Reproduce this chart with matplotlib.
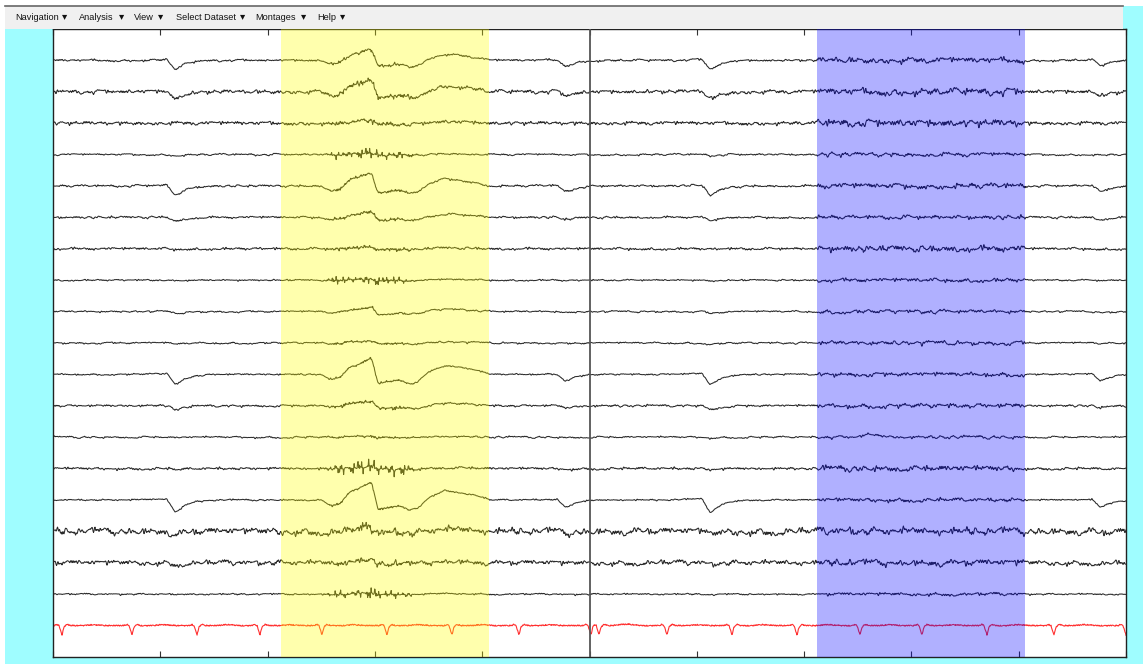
import numpy as np
import matplotlib
matplotlib.use("Agg")
import matplotlib.pyplot as plt
from matplotlib.patches import Rectangle

# --- data (x in pixel columns of the 1143 px image) ---
x0_px, px_per_sec = 53.0, 107.3
menu_items = ["Navigation", "Analysis", "View", "Select Dataset", "Montages", "Help"]
menu_x = [15, 79, 134, 176, 255, 317]
chevron_x = [61, 118, 157, 239, 300, 339]

yellow_span = (281, 489)
blue_span = (817, 1025)
marker_px = 590

blink_px = [175, 565, 710, 1100]
blink_weight = [1.0, 0.6, 1.0, 0.6]
blink_shape_dx = [-45, -8, 0, 4, 10, 20, 35, 50]
blink_shape_val = [0.0, 0.08, -1.0, -0.85, -0.45, -0.15, -0.03, 0.0]

# slow wave seen inside the yellow window
slow_px = [281, 320, 332, 340, 350, 360, 370, 372, 378, 390, 400, 410, 418, 430, 445, 460, 480, 490]
slow_val = [0.0, 0.0, -0.35, -0.2, 0.45, 0.7, 1.0, 0.9, -0.55, -0.45, -0.35, -0.6, -0.45, 0.2, 0.55, 0.45, 0.2, 0.0]

# spiky burst inside the yellow window
burst_px = [325, 338, 350, 362, 372, 384, 396, 410, 420]
burst_val = [0.0, 1.0, 0.5, 0.8, 1.0, 0.6, 0.9, 0.3, 0.0]

# bump in the blue window (channel 13)
bump_px = [855, 868, 878, 892]
bump_val = [0.0, 0.25, 0.15, 0.0]

ecg_px = [60, 130, 195, 258, 320, 385, 450, 517, 589, 597, 665, 730, 795, 858, 920, 985, 1052, 1124]
qrs_dx = [-6, -3, -1, 2, 4, 7, 11, 22, 32, 46]
qrs_val = [0.0, 0.12, 0.0, -1.0, -0.15, 0.12, 0.0, 0.0, 0.1, 0.0]

# per-channel amplitudes (channel-spacing units), channels 1..18 top to bottom
fast_amp = [0.04, 0.07, 0.07, 0.03, 0.04, 0.04, 0.05, 0.03, 0.03, 0.03, 0.03, 0.04, 0.03, 0.05, 0.03, 0.12, 0.09, 0.03]
med_amp = [0.03, 0.05, 0.04, 0.03, 0.03, 0.03, 0.03, 0.02, 0.03, 0.03, 0.02, 0.03, 0.03, 0.03, 0.02, 0.10, 0.07, 0.02]
blue_gain = [2.6, 1.8, 2.0, 2.2, 2.4, 1.8, 2.4, 2.4, 2.0, 2.2, 2.6, 2.0, 1.6, 2.2, 2.4, 1.1, 1.3, 2.0]
blink_amp = [0.28, 0.22, 0.0, 0.03, 0.30, 0.12, 0.02, 0.03, 0.06, 0.04, 0.32, 0.12, 0.02, 0.04, 0.38, 0.10, 0.05, 0.02]
slow_amp = [0.35, 0.35, 0.08, 0.05, 0.42, 0.18, 0.05, 0.04, 0.14, 0.06, 0.50, 0.14, 0.04, 0.05, 0.55, 0.10, 0.08, 0.04]
burst_amp = [0.03, 0.05, 0.03, 0.09, 0.03, 0.03, 0.03, 0.08, 0.02, 0.02, 0.02, 0.03, 0.02, 0.13, 0.02, 0.05, 0.04, 0.09]
bump_amp = [0, 0, 0, 0, 0, 0, 0, 0, 0, 0, 0, 0, 1.0, 0, 0, 0, 0, 0]
ecg_amp = 0.3

# hand-typed wiggle values used for the background texture of the traces
wiggle = [0.3, -0.5, 0.8, -0.2, 0.1, -0.9, 0.6, 0.4, -0.7, 0.2, -0.1, 0.9, -0.4, -0.6, 0.5, 0.0,
          -0.3, 0.7, -0.8, 0.3, 0.6, -0.2, -0.5, 0.9, -0.1, 0.4, -0.9, 0.2, 0.7, -0.6, 0.1, -0.4,
          0.8, -0.3, 0.5, -0.7, 0.0, 0.6, -0.2, -0.8, 0.4, 0.9, -0.5, 0.2, -0.1, 0.7, -0.6, 0.3,
          -0.9, 0.5, 0.1, -0.3, 0.8, -0.4, 0.6, -0.7, 0.2, -0.2, 0.9, -0.5, 0.4, -0.1, -0.8, 0.7,
          0.0, -0.6, 0.3, 0.5, -0.4, 0.8, -0.9, 0.1, 0.6, -0.3, 0.2, -0.7, 0.9, -0.2, 0.4, -0.5,
          0.7, -0.1, -0.6, 0.3, 0.8, -0.8, 0.5, -0.4, 0.1, 0.6, -0.9, 0.2, 0.7, -0.3, 0.4, -0.6,
          0.0, 0.9, -0.7, 0.3, -0.2]


def sec(px):
    return (np.asarray(px, dtype=float) - x0_px) / px_per_sec


t = np.linspace(0, 10, 2146)
W = np.array(wiggle)
L = len(W)
idx = np.arange(len(t))
in_blue = (t >= sec(blue_span[0])) & (t <= sec(blue_span[1]))
slow = np.interp(t, sec(slow_px), slow_val)
burst_env = np.interp(t, sec(burst_px), burst_val)
bump = np.interp(t, sec(bump_px), bump_val)

blink = np.zeros_like(t)
for bp, bw in zip(blink_px, blink_weight):
    blink += bw * np.interp(t, sec(bp + np.array(blink_shape_dx)), blink_shape_val, left=0, right=0)

ecg = np.zeros_like(t)
for bp in ecg_px:
    ecg += np.interp(t, sec(bp + np.array(qrs_dx)), qrs_val, left=0, right=0)

fig = plt.figure(figsize=(11.43, 6.64), dpi=100)
fig.patch.set_facecolor("white")
W_px, H_px = 1143.0, 664.0
fig.add_artist(Rectangle((5 / W_px, 0), 1 - 5 / W_px, 658 / H_px, transform=fig.transFigure,
                         facecolor="#9ffdff", edgecolor="none", zorder=0))
fig.add_artist(Rectangle((5 / W_px, 635 / H_px), 1118 / W_px, 23 / H_px, transform=fig.transFigure,
                         facecolor="#f0f0f0", edgecolor="none", zorder=1))
fig.add_artist(plt.Line2D([5 / W_px, 1123 / W_px], [658 / H_px, 658 / H_px], transform=fig.transFigure,
                          color="#666666", lw=1.2, zorder=2))
for name, mx, cx in zip(menu_items, menu_x, chevron_x):
    fig.text(mx / W_px, 646 / H_px, name, fontsize=6.6, family="Liberation Sans",
             va="center", ha="left", color="#111111")
    fig.text((cx + 1) / W_px, 647.5 / H_px, "\u25be", fontsize=7.5, family="DejaVu Sans",
             va="center", ha="left", color="#111111")

ax = fig.add_axes([53 / W_px, 7 / H_px, 1073 / W_px, 628 / H_px])
ax.set_facecolor("white")

for ch in range(18):
    fast = W[(idx * 7 + ch * 13) % L]
    fast = np.convolve(fast, [0.25, 0.5, 0.25], mode="same")
    med_coarse = W[(np.arange(0, len(t), 9) * 3 + ch * 29) % L]
    med = np.interp(idx, np.arange(0, len(t), 9), med_coarse)
    noise = fast_amp[ch] * fast + med_amp[ch] * med
    noise = np.where(in_blue, noise * blue_gain[ch], noise)
    spikes = burst_amp[ch] * burst_env * W[(idx * 17 + ch * 7) % L] ** 5 * 3.0
    y = (noise + blink_amp[ch] * blink + slow_amp[ch] * slow + spikes + 0.3 * bump_amp[ch] * bump)
    ax.plot(t, (19 - ch) + y, color="#2a2a2a", lw=0.75, zorder=2)

ecg_noise = 0.02 * W[(idx * 5 + 3) % L]
ax.plot(t, 1 + ecg_amp * ecg + ecg_noise, color="#ff3030", lw=0.8, zorder=2)

ax.axvline(sec(marker_px), color="#555555", lw=1.3, zorder=3)
ax.axvspan(sec(yellow_span[0]), sec(yellow_span[1]), color="#ffff00", alpha=0.32, lw=0, zorder=4)
ax.axvspan(sec(blue_span[0]), sec(blue_span[1]), color="#0000ff", alpha=0.31, lw=0, zorder=4)

ax.set_xlim(0, 10)
ax.set_ylim(0, 20)
ax.set_xticks(np.arange(0, 11, 1))
ax.set_yticks([])
ax.tick_params(axis="x", direction="in", length=4, top=True, bottom=True,
               labelbottom=False, labeltop=False, color="#333333")
for s in ax.spines.values():
    s.set_color("#222222")
    s.set_linewidth(1.0)

fig.savefig("out.png", dpi=100)
